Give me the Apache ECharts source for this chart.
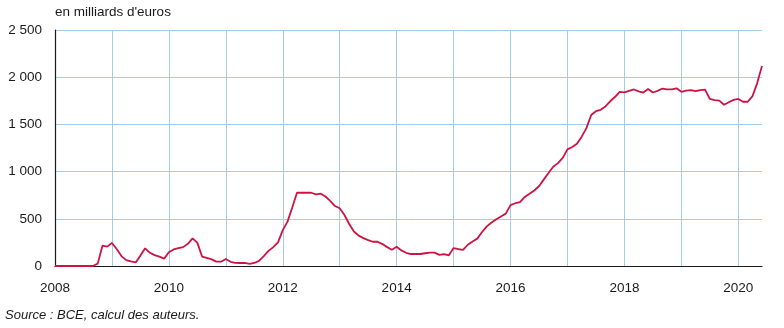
<!DOCTYPE html>
<html>
<head>
<meta charset="utf-8">
<script src="https://cdn.jsdelivr.net/npm/echarts@6/dist/echarts.min.js"></script>
<style>
html,body{margin:0;padding:0;background:#fff;}
#chart{width:784px;height:328px;}
</style>
</head>
<body>
<div id="chart"></div>
<script>
// Monthly series, starting January 2008 (en milliards d'euros)
const startYear = 2008;
const values = [
  0, 0, 0, 0, 0, 0, 0, 0, 0, 25, 215, 205,
  244, 180, 105, 62, 48, 38, 110, 187, 140, 115, 100, 78,
  145, 175, 190, 200, 235, 293, 245, 100, 85, 70, 46, 46,
  75, 45, 33, 32, 32, 22, 32, 55, 105, 160, 200, 250,
  380, 470, 620, 776, 776, 776, 776, 758, 766, 736, 690, 635,
  612, 540, 445, 365, 322, 295, 275, 257, 257, 232, 200, 172,
  204, 165, 140, 127, 127, 127, 135, 141, 141, 118, 127, 113,
  190, 180, 170, 225, 260, 290, 360, 420, 460, 495, 525, 555,
  645, 665, 676, 732, 765, 800, 845, 915, 985, 1052, 1090, 1145,
  1236, 1260, 1295, 1370, 1460, 1600, 1640, 1655, 1690, 1745, 1790, 1845,
  1840, 1855, 1870, 1850, 1837, 1875, 1838, 1855, 1880, 1872, 1872, 1882,
  1845, 1858, 1864, 1853, 1862, 1868, 1770, 1758, 1752, 1708, 1735, 1760,
  1770, 1740, 1740, 1800, 1940, 2120
];
const yTicks = [0, 500, 1000, 1500, 2000, 2500];
const xLabelYears = [2008, 2010, 2012, 2014, 2016, 2018, 2020];
const titleText = "en milliards d'euros";
const sourceText = "Source : BCE, calcul des auteurs.";

const points = values.map((v, i) => [startYear + i / 12, v]);
const xMax = startYear + (values.length - 1) / 12;

function fmtThousands(v) {
  if (v >= 1000) return Math.floor(v / 1000) + ' ' + String(v % 1000).padStart(3, '0');
  return String(v);
}

const chart = echarts.init(document.getElementById('chart'), null, {renderer: 'canvas'});
const font = '"Liberation Sans", Arial, sans-serif';
chart.setOption({
  animation: false,
  backgroundColor: '#fff',
  title: [
    {text: titleText, left: 55, top: 5, padding: 0,
     textStyle: {fontFamily: font, fontSize: 13.5, fontWeight: 'normal', color: '#1a1a1a'}},
    {text: sourceText, left: 5, top: 309, padding: 0,
     textStyle: {fontFamily: font, fontSize: 13, fontWeight: 'normal', fontStyle: 'italic', color: '#1a1a1a'}}
  ],
  grid: {left: 55, right: 22, top: 30, bottom: 62, containLabel: false},
  xAxis: {
    type: 'value',
    min: startYear,
    max: xMax,
    interval: 1,
    axisLine: {show: true, onZero: false, lineStyle: {color: '#1a1a1a', width: 1.2}},
    axisTick: {show: false},
    splitLine: {show: true, showMinLine: false, showMaxLine: false, lineStyle: {color: '#a3cde9', width: 1}},
    axisLabel: {
      margin: 15,
      fontFamily: font, fontSize: 13.5, color: '#1a1a1a',
      showMaxLabel: false,
      formatter: v => xLabelYears.includes(Math.round(v)) && Math.abs(v - Math.round(v)) < 1e-6 ? String(Math.round(v)) : ''
    }
  },
  yAxis: {
    type: 'value',
    min: yTicks[0],
    max: yTicks[yTicks.length - 1],
    interval: yTicks[1] - yTicks[0],
    axisLine: {show: true, lineStyle: {color: '#1a1a1a', width: 1.2}},
    axisTick: {show: false},
    splitLine: {show: true, lineStyle: {color: '#a3cde9', width: 1}},
    axisLabel: {
      margin: 13,
      fontFamily: font, fontSize: 13.5, color: '#1a1a1a',
      formatter: v => fmtThousands(v)
    }
  },
  series: [{
    type: 'line',
    data: points,
    showSymbol: false,
    symbol: 'none',
    lineStyle: {color: '#cc1443', width: 1.8},
    z: 3
  }]
});
</script>
</body>
</html>
